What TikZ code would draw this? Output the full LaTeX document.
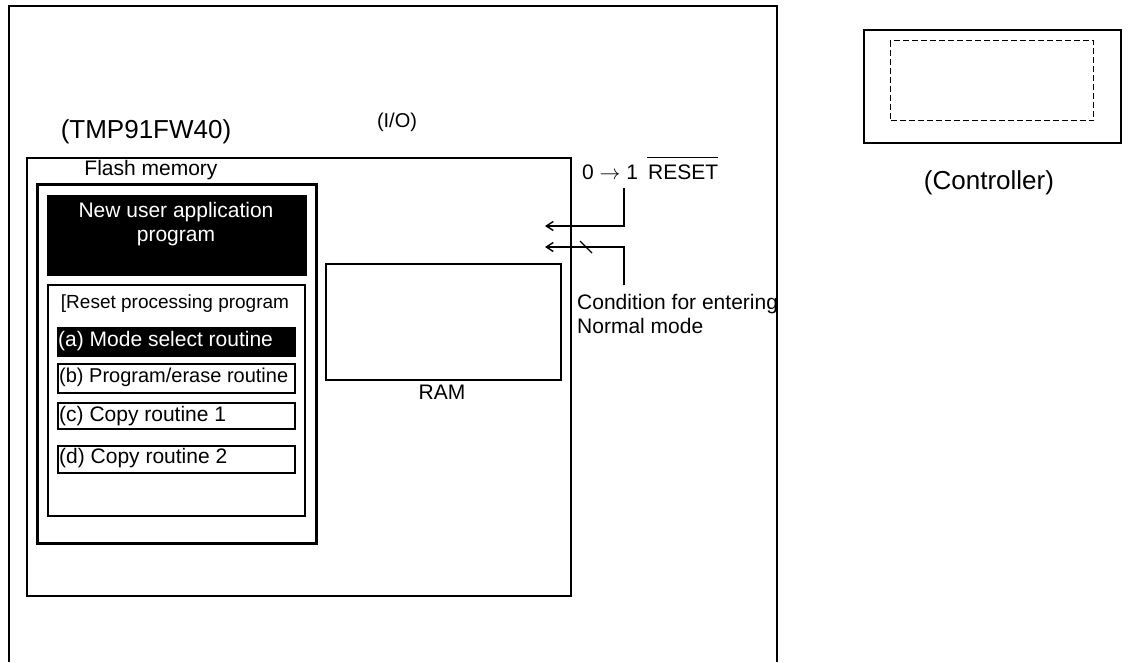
\documentclass[tikz,border=0pt]{standalone}
\usepackage{fontspec}
\setmainfont{Liberation Sans}
\usepackage{tikz}
\usetikzlibrary{arrows.meta}
\usetikzlibrary{positioning}

\begin{document}
\begin{tikzpicture}[x=1pt, y=-1pt]
	\tikzstyle{blk}=[draw, line width=1.8pt, inner sep=0pt, anchor=north west];
	\tikzstyle{txt}=[inner sep=0pt, font=\fontsize{21}{24}\selectfont];
	\tikzstyle{big}=[inner sep=0pt, font=\fontsize{26}{30}\selectfont];
	\tikzstyle{sig}=[line width=1.4pt, -{Straight Barb[length=7pt, width=9pt]}];
	\useasboundingbox (0,0) rectangle (1128,662);
	% board
	\draw[line width=2pt] (9,662) |- (777,6) -- (777,662);
	\node[txt, font=\fontsize{20}{23}\selectfont] (io) at (397,122) {(I/O)};
	% microcontroller
	\node[blk, minimum width=544, minimum height=438] (chip) at (26,157) {};
	\node[big] (chipname) at (146,132) {(TMP91FW40)};
	\node[blk, line width=3pt, minimum width=279, minimum height=359] (flash) at (36,183) {};
	\node[txt] (flashname) at (151,170) {Flash memory};
	\node[blk, fill=black, minimum width=258, minimum height=79] (newapp) at (47,195) {};
	\node[txt, text=white, align=center] (newtxt) at (176,224) {New user application\\program};
	\node[blk, minimum width=257, minimum height=231] (reset) at (47,284) {};
	\node[txt, font=\fontsize{19}{22}\selectfont] (resettxt) at (175,304) {[Reset processing program};
	\node[blk, fill=black, minimum width=237, minimum height=28] (ra) at (57,327) {};
	\node[txt, text=white, anchor=west] (rat) at (58,341) {(a) Mode select routine};
	\node[blk, minimum width=237, minimum height=29] (rb) at (57,363) {};
	\node[txt, anchor=west, font=\fontsize{20}{23}\selectfont] (rbt) at (59,377) {(b) Program/erase routine};
	\node[blk, minimum width=237, minimum height=26] (rc) at (57,402) {};
	\node[txt, anchor=west] (rct) at (59,416) {(c) Copy routine 1};
	\node[blk, minimum width=237, minimum height=27] (rd) at (57,445) {};
	\node[txt, anchor=west] (rdt) at (59,458) {(d) Copy routine 2};
	\node[blk, minimum width=235, minimum height=116] (ram) at (325,263) {};
	\node[txt] (ramname) at (442,392) {RAM};
	% reset and mode pins
	\node[txt, anchor=west] (rstname) at (582,172) {0 $\rightarrow$ 1};
	\node[txt, anchor=west] (rstbar) at (648,172) {RESET};
	\draw[line width=1pt] ([xshift=-1pt, yshift=7pt]rstbar.north west) -- ([yshift=7pt]rstbar.north east);
	\node[txt, anchor=west, align=left] (modename) at (577,314) {Condition for entering\\Normal mode};
	\coordinate (rstpin) at (624,188);
	\coordinate (rstin) at (545,226);
	\coordinate (modepin) at (624,285);
	\coordinate (modein) at (545,247);
	\draw[sig] (rstpin) |- (rstin);
	\draw[sig] (modepin) |- (modein);
	\draw[line width=1.2pt] (580,241) -- (592,253);
	% controller
	\node[blk, line width=2.4pt, minimum width=257, minimum height=113] (ctrl) at (863,29) {};
	\node[draw, dash pattern=on 6pt off 3pt, line width=1pt, inner sep=0pt, minimum width=203, minimum height=80, anchor=north west] (ctrlin) at (890,40) {};
	\node[big] (ctrlname) at (989,183) {(Controller)};
\end{tikzpicture}
\end{document}
